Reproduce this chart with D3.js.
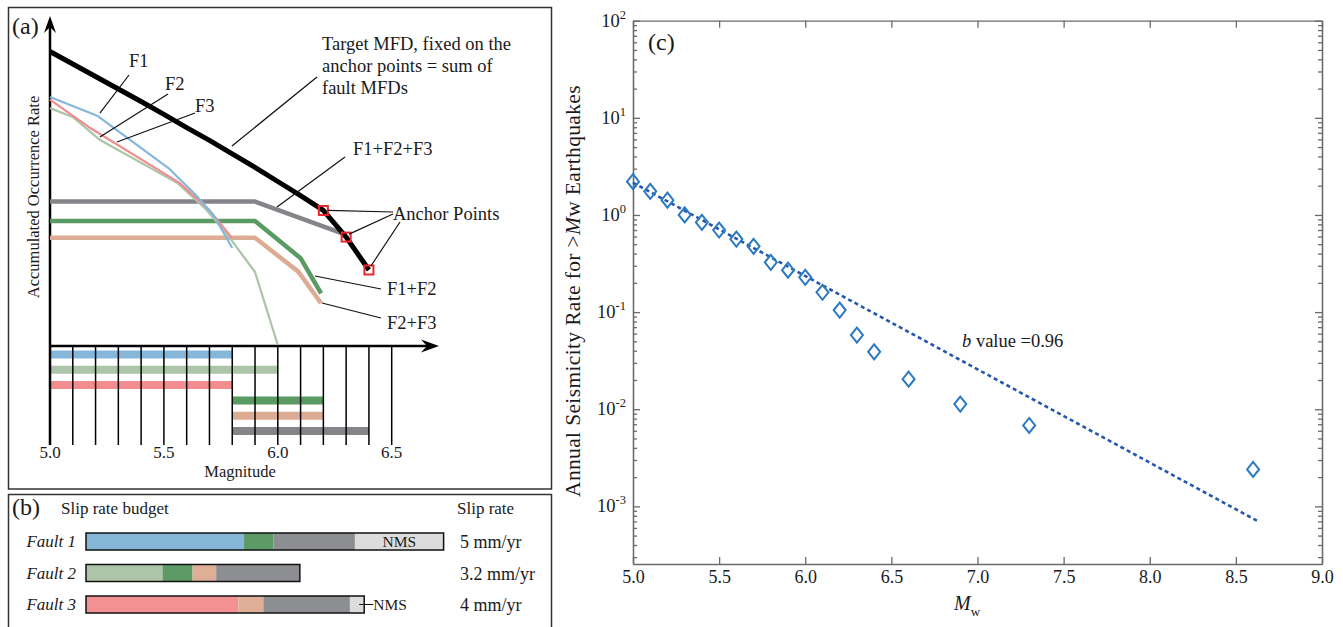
<!DOCTYPE html>
<html><head><meta charset="utf-8">
<script src="https://cdn.jsdelivr.net/npm/d3@7"></script>
<style>
body{margin:0;background:#fff}
svg{display:block}
text{font-family:"Liberation Serif","Times New Roman",serif;fill:#1a1a1a}
</style>
</head><body>
<svg id="chart" width="1343" height="627"></svg>
<script>
// ---------------- Panel (a) data (relative log rate units) ----------------
const targetMag  = [5.0,5.1,5.2,5.3,5.4,5.5,5.6,5.7,5.8,5.9,6.0,6.1,6.2,6.3,6.4];
const targetRate = [8.95,8.57,8.19,7.81,7.43,7.04,6.64,6.25,5.84,5.43,5.00,4.57,4.12,3.31,2.31];
const f1Mag  = [5.0,5.21,5.52,5.64,5.72,5.8];
const f1Rate = [7.57,6.99,5.41,4.59,3.95,2.98];
const f2Mag  = [5.0,5.1,5.22,5.56,5.68,5.78,5.9,6.0];
const f2Rate = [7.23,6.96,6.26,4.95,4.19,3.37,2.25,0.03];
const f3Mag  = [5.0,5.18,5.57,5.7,5.8];
const f3Rate = [7.49,6.61,4.95,4.13,3.28];
const f123Mag  = [5.0,5.9,6.28];
const f123Rate = [4.39,4.39,3.43];
const f12Mag  = [5.0,5.9,6.1,6.19];
const f12Rate = [3.80,3.80,2.67,1.60];
const f23Mag  = [5.0,5.9,6.09,6.19];
const f23Rate = [3.29,3.29,2.26,1.30];
const anchorMag = [6.2,6.3,6.4];
const rangeNames = ["F1","F2","F3","F1+F2","F2+F3","F1+F2+F3"];
const rangeStart = [5.0,5.0,5.0,5.8,5.8,5.8];
const rangeEnd   = [5.8,6.0,5.8,6.2,6.2,6.4];
const magTicks = [5.0,5.1,5.2,5.3,5.4,5.5,5.6,5.7,5.8,5.9,6.0,6.1,6.2,6.3,6.4,6.5];
const magTickLabels = ["5.0","5.5","6.0","6.5"];

// ---------------- Panel (b) data (mm/yr) ----------------
const faults = ["Fault 1","Fault 2","Fault 3"];
const slipRateLabels = ["5 mm/yr","3.2 mm/yr","4 mm/yr"];
const budgetParts1 = ["F1","F1+F2","F1+F2+F3","NMS"];
const budgetFault1 = [2.21,0.41,1.14,1.24];
const budgetParts2 = ["F2","F1+F2","F2+F3","F1+F2+F3"];
const budgetFault2 = [1.07,0.42,0.33,1.17];
const budgetParts3 = ["F3","F2+F3","F1+F2+F3","NMS"];
const budgetFault3 = [2.13,0.35,1.21,0.20];

// ---------------- Panel (c) data ----------------
const mwBins = [5.0,5.1,5.2,5.3,5.4,5.5,5.6,5.7,5.8,5.9,6.0,6.1,6.2,6.3,6.4,6.6,6.9,7.3,8.6];
const annualRate = [2.2,1.75,1.42,1.0,0.84,0.70,0.565,0.475,0.325,0.27,0.228,0.16,0.105,0.058,0.039,0.0204,0.0113,0.0068,0.0024];
const fitMag  = [5.0, 8.63];
const fitRate = [2.15, 0.0007];
const xTicksC = [5.0,5.5,6.0,6.5,7.0,7.5,8.0,8.5,9.0];
const yDecadesC = [-3,-2,-1,0,1,2];

// ---------------- colours ----------------
const col = {"F1":"#85b7db","F2":"#acc4a7","F3":"#f28c8e","F1+F2":"#5a9a63","F2+F3":"#dcac94","F1+F2+F3":"#858589","NMS":"#dcdcdc"};
const barCol = {"F1":"#86b7d9","F2":"#adc4a8","F3":"#f39092","F1+F2":"#5d9a66","F2+F3":"#deae96","F1+F2+F3":"#8d8e91","NMS":"#dcdcdc"};

const svg = d3.select("#chart");
const zip = (a,b)=>a.map((v,i)=>[v,b[i]]);

// panel frames
svg.append("rect").attr("x",8.5).attr("y",7.5).attr("width",543).attr("height",481.5)
  .attr("fill","none").attr("stroke","#333").attr("stroke-width",1.5);
svg.append("rect").attr("x",8.5).attr("y",494.5).attr("width",543).attr("height",150)
  .attr("fill","none").attr("stroke","#333").attr("stroke-width",1.5);

// ================= Panel (a) =================
const gA = svg.append("g");
const xA = d3.scaleLinear().domain([5.0,6.5]).range([50,391.7]);
const yA = d3.scaleLinear().domain([0,10]).range([346,17]);
const lineA = d3.line().x(d=>xA(d[0])).y(d=>yA(d[1]));
const P = (m,v)=>[xA(m),yA(v)];

// magnitude range bars
const rowY = d3.scalePoint().domain(rangeNames).range([354.5,431]);
gA.selectAll("line.rng").data(rangeNames).join("line")
  .attr("x1",(d,i)=>xA(rangeStart[i])).attr("x2",(d,i)=>xA(rangeEnd[i]))
  .attr("y1",d=>rowY(d)).attr("y2",d=>rowY(d))
  .attr("stroke",d=>col[d]).attr("stroke-width",8);

// vertical tick lines
gA.selectAll("line.tk").data(magTicks).join("line")
  .attr("x1",d=>xA(d)).attr("x2",d=>xA(d)).attr("y1",yA(0)).attr("y2",445)
  .attr("stroke","#000").attr("stroke-width",1.5);
gA.selectAll("text.tl").data(magTickLabels).join("text")
  .attr("x",d=>xA(+d)).attr("y",458).attr("text-anchor","middle")
  .attr("font-size",17).text(d=>d);
gA.append("text").attr("x",240).attr("y",477).attr("text-anchor","middle")
  .attr("font-size",16.5).text("Magnitude");

// axes
gA.append("line").attr("x1",xA(5)).attr("x2",xA(5)).attr("y1",445).attr("y2",22)
  .attr("stroke","#000").attr("stroke-width",2.5);
gA.append("line").attr("x1",xA(5)).attr("x2",432).attr("y1",yA(0)).attr("y2",yA(0))
  .attr("stroke","#000").attr("stroke-width",2.5);
gA.append("path").attr("d",`M${xA(5)},16 L${xA(5)+6},33 L${xA(5)},27 L${xA(5)-6},33 Z`).attr("fill","#000");
gA.append("path").attr("d",`M439,${yA(0)} L421,${yA(0)-6.5} L427,${yA(0)} L421,${yA(0)+6.5} Z`).attr("fill","#000");

gA.append("text").attr("transform","translate(39,197) rotate(-90)").attr("text-anchor","middle")
  .attr("font-size",16.5).text("Accumulated Occurrence Rate");
gA.append("text").attr("x",12).attr("y",34).attr("font-size",24).text("(a)");

// combined fault MFDs
[[f123Mag,f123Rate,"F1+F2+F3"],[f12Mag,f12Rate,"F1+F2"],[f23Mag,f23Rate,"F2+F3"]].forEach(([m,r,k])=>{
  gA.append("path").attr("d",lineA(zip(m,r))).attr("fill","none")
    .attr("stroke",col[k]).attr("stroke-width",4.5).attr("stroke-linejoin","round");
});
// single fault MFDs
[[f2Mag,f2Rate,"F2"],[f3Mag,f3Rate,"F3"],[f1Mag,f1Rate,"F1"]].forEach(([m,r,k])=>{
  gA.append("path").attr("d",lineA(zip(m,r))).attr("fill","none")
    .attr("stroke",col[k]).attr("stroke-width",2.2).attr("stroke-linejoin","round");
});
// target
gA.append("path").attr("d",lineA(zip(targetMag,targetRate))).attr("fill","none")
  .attr("stroke","#000").attr("stroke-width",5).attr("stroke-linejoin","round");
// anchors
const tgt = d3.scaleLinear().domain(targetMag).range(targetRate);
gA.selectAll("rect.anc").data(anchorMag).join("rect")
  .attr("x",d=>xA(d)-4.5).attr("y",d=>yA(tgt(d))-4.5).attr("width",9).attr("height",9)
  .attr("fill","none").attr("stroke","#e8262b").attr("stroke-width",2);

// annotations
const leader = (a,b)=>gA.append("line").attr("x1",a[0]).attr("y1",a[1]).attr("x2",b[0]).attr("y2",b[1])
  .attr("stroke","#111").attr("stroke-width",1.2);
const label = (x,y,t)=>gA.append("text").attr("x",x).attr("y",y).attr("font-size",18.5).text(t);
leader(P(5.219,7.08),[129,75]); label(129,67,"F1");
leader(P(5.219,6.35),[168,94]); label(165,90,"F2");
leader(P(5.294,6.20),[195,113]); label(195,112,"F3");
leader([232,146],[317,77]);
label(322,50,"Target MFD, fixed on the");
label(322,72,"anchor points = sum of");
label(322,94,"fault MFDs");
leader([277,207],[345,157]); label(353,155,"F1+F2+F3");
leader([xA(6.2)+4.5,yA(tgt(6.2))],[393,212]);
leader([xA(6.3)+3,yA(tgt(6.3))-3],[393,214]);
leader([xA(6.4)+2,yA(tgt(6.4))-4],[400,222]);
label(393,220,"Anchor Points");
leader([315,276],[381,289]); label(387,295,"F1+F2");
leader([322,303],[381,318]); label(387,329,"F2+F3");

// ================= Panel (b) =================
const gB = svg.append("g");
const xB = d3.scaleLinear().domain([0,5]).range([86,443.6]);
const rowB = d3.scaleBand().domain(faults).range([533,613]).paddingInner(0.46);
const budgets = [[budgetParts1,budgetFault1],[budgetParts2,budgetFault2],[budgetParts3,budgetFault3]];
faults.forEach((f,i)=>{
  const [parts,vals] = budgets[i];
  const cum = d3.cumsum(vals);
  const y0 = rowB(f), h = rowB.bandwidth();
  gB.selectAll(null).data(parts).join("rect")
    .attr("x",(d,j)=>xB(j?cum[j-1]:0)).attr("width",(d,j)=>xB(vals[j])-xB(0))
    .attr("y",y0).attr("height",h).attr("fill",d=>barCol[d]);
  gB.append("rect").attr("x",xB(0)).attr("y",y0).attr("width",xB(cum[cum.length-1])-xB(0)).attr("height",h)
    .attr("fill","none").attr("stroke","#111").attr("stroke-width",1.5);
  gB.append("text").attr("x",76).attr("y",y0+h/2+5.5).attr("text-anchor","end")
    .attr("font-size",17).attr("font-style","italic").text(f);
  gB.append("text").attr("x",460).attr("y",y0+h/2+6.5).attr("font-size",18).text(slipRateLabels[i]);
});
{
  const cum1 = d3.cumsum(budgetFault1);
  gB.append("text").attr("x",(xB(cum1[2])+xB(cum1[3]))/2).attr("y",rowB("Fault 1")+rowB.bandwidth()/2+5.5)
    .attr("text-anchor","middle").attr("font-size",15.5).text("NMS");
  const cum3 = d3.cumsum(budgetFault3);
  const ym = rowB("Fault 3")+rowB.bandwidth()/2;
  gB.append("line").attr("x1",xB(cum3[3])-5).attr("x2",xB(cum3[3])+9).attr("y1",ym).attr("y2",ym)
    .attr("stroke","#111").attr("stroke-width",1);
  gB.append("text").attr("x",xB(cum3[3])+9).attr("y",ym+5.5).attr("font-size",15.5).text("NMS");
}
gB.append("text").attr("x",12).attr("y",515).attr("font-size",24).text("(b)");
gB.append("text").attr("x",61).attr("y",514).attr("font-size",17).text("Slip rate budget");
gB.append("text").attr("x",457).attr("y",514).attr("font-size",17).text("Slip rate");

// ================= Panel (c) =================
const gC = svg.append("g");
const xC = d3.scaleLinear().domain([5,9]).range([633,1322]);
const yC = d3.scaleLog().domain([2.55e-4,100]).range([564,20.7]);
const axCol = "#6a6a6a";
const majorY = yDecadesC.map(k=>Math.pow(10,k));
const minorY = [];
for (let k=-4;k<2;k++) for (let m=2;m<10;m++){const v=m*Math.pow(10,k); if(v>=2.55e-4&&v<=100) minorY.push(v);}

function styleAxis(g){g.selectAll("path,line").attr("stroke",axCol).attr("stroke-width",1.3);}
gC.append("g").attr("transform","translate(0,564)")
  .call(d3.axisBottom(xC).tickValues(xTicksC).tickFormat(d3.format(".1f")).tickSize(-7).tickSizeOuter(0).tickPadding(6))
  .call(styleAxis).call(g=>g.selectAll("text").attr("font-size",18).attr("fill","#1a1a1a")
    .attr("font-family","'Liberation Serif',serif"));
gC.append("g").attr("transform","translate(0,20.7)")
  .call(d3.axisTop(xC).tickValues(xTicksC).tickFormat("").tickSize(-7).tickSizeOuter(0)).call(styleAxis);
gC.append("g").attr("transform","translate(633,0)")
  .call(d3.axisLeft(yC).tickValues(majorY).tickFormat("").tickSize(-7).tickSizeOuter(0)).call(styleAxis);
gC.append("g").attr("transform","translate(633,0)")
  .call(d3.axisLeft(yC).tickValues(minorY).tickFormat("").tickSize(-4).tickSizeOuter(0)).call(styleAxis);
gC.append("g").attr("transform","translate(1322,0)")
  .call(d3.axisRight(yC).tickValues(majorY).tickFormat("").tickSize(-7).tickSizeOuter(0)).call(styleAxis);
gC.append("g").attr("transform","translate(1322,0)")
  .call(d3.axisRight(yC).tickValues(minorY).tickFormat("").tickSize(-4).tickSizeOuter(0)).call(styleAxis);

// y tick labels with superscripts
const yl = gC.selectAll("text.ylab").data(yDecadesC).join("text")
  .attr("x",626).attr("y",d=>yC(Math.pow(10,d))+6).attr("text-anchor","end").attr("font-size",18.5);
yl.append("tspan").text("10");
yl.append("tspan").attr("dy",-8).attr("font-size",12.5).text(d=>String(d));

// fit line
gC.append("path").attr("d",d3.line().x(d=>xC(d[0])).y(d=>yC(d[1]))(zip(fitMag,fitRate)))
  .attr("fill","none").attr("stroke","#2457ad").attr("stroke-width",2.6).attr("stroke-dasharray","4,3.2");
// diamonds
gC.selectAll("path.dm").data(zip(mwBins,annualRate)).join("path")
  .attr("transform",d=>`translate(${xC(d[0])},${yC(d[1])})`)
  .attr("d","M0,-7.5 L6,0 L0,7.5 L-6,0 Z").attr("fill","none")
  .attr("stroke","#2a79c2").attr("stroke-width",2);

// texts
const bt = gC.append("text").attr("x",962).attr("y",347).attr("font-size",18.5);
bt.append("tspan").attr("font-style","italic").text("b");
bt.append("tspan").text(" value =0.96");
gC.append("text").attr("x",648).attr("y",50).attr("font-size",24).text("(c)");
const xl = gC.append("text").attr("x",967).attr("y",610).attr("text-anchor","middle").attr("font-size",20);
xl.append("tspan").attr("font-style","italic").text("M");
xl.append("tspan").attr("dy",6).attr("font-size",13).text("w");
const ylC = gC.append("text").attr("transform","translate(580,291) rotate(-90)").attr("text-anchor","middle")
  .attr("font-size",21.5).attr("letter-spacing",0.35);
ylC.append("tspan").text("Annual Seismicity Rate for >");
ylC.append("tspan").attr("font-style","italic").text("M");
ylC.append("tspan").text("w Earthquakes");
</script>
</body></html>
